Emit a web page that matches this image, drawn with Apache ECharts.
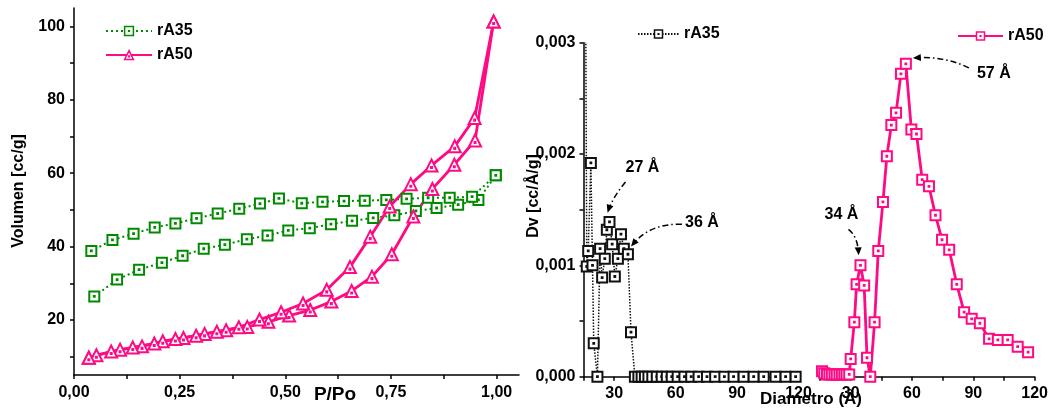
<!DOCTYPE html>
<html>
<head>
<meta charset="utf-8">
<script src="https://cdn.jsdelivr.net/npm/echarts@6/dist/echarts.min.js"></script>
<style>
html,body{margin:0;padding:0;background:#fff;}
#c{width:1051px;height:410px;}
</style>
</head>
<body>
<div id="c"></div>
<script>
// ---- Isotherm data (left panel) ----
const a35AdsX = [0.048,0.102,0.154,0.208,0.257,0.307,0.357,0.409,0.458,0.507,0.558,0.608,0.658,0.708,0.758,0.809,0.858,0.909,0.957,0.998];
const a35AdsY = [26.4,31.0,33.7,35.6,37.5,39.4,40.5,42.0,43.0,44.4,45.0,46.1,47.0,47.8,48.5,49.7,50.5,51.4,52.7,59.4];
const a35DesX = [0.998,0.942,0.889,0.838,0.787,0.739,0.688,0.639,0.588,0.539,0.485,0.440,0.391,0.340,0.290,0.240,0.191,0.141,0.091,0.041];
const a35DesY = [59.4,53.6,53.3,53.3,53.0,52.7,52.5,52.4,52.2,51.8,53.1,51.7,50.3,49.0,47.7,46.3,45.2,43.5,41.8,38.8];
const a50AdsX = [0.035,0.053,0.109,0.161,0.210,0.259,0.309,0.360,0.410,0.460,0.509,0.559,0.609,0.657,0.705,0.752,0.803,0.848,0.900,0.949,0.993];
const a50AdsY = [9.7,10.4,11.9,12.8,14.2,15.1,16.2,17.2,18.1,19.5,21.2,22.7,25.0,27.9,31.8,37.9,48.2,55.7,62.3,68.9,101.3];
const a50DesX = [0.993,0.948,0.901,0.846,0.797,0.747,0.701,0.653,0.598,0.542,0.490,0.439,0.390,0.338,0.289,0.240,0.190,0.139,0.088,0.035];
const a50DesY = [101.3,75.0,67.3,62.1,57.0,50.9,42.7,34.4,28.2,24.5,22.1,20.1,18.0,16.8,15.7,14.8,13.6,12.5,11.4,9.7];

// ---- Pore size distribution rA35 (middle panel) ----
const psd35X = [15.8,16.6,17.3,18.6,19.4,20.0,21.8,23.1,24.1,25.4,26.4,27.7,29.0,30.3,31.8,33.3,34.7,36.7,38.2,40.1,41.8,43.4,45.0,46.7,48.6,50.8,53.2,55.7,58.1,61.0,64.3,67.6,71.2,75.3,79.3,83.8,88.3,93.2,98.1,103.0,108.8,113.7,118.6];
const psd35Y = [0.0045,0.00099,0.00113,0.00192,0.00100,0.00030,0,0.00115,0.00089,0.00106,0.00132,0.00139,0.00119,0.00090,0.00106,0.00128,0.00115,0.00110,0.00040,0,0,0,0,0,0,0,0,0,0,0,0,0,0,0,0,0,0,0,0,0,0,0,0];

// ---- Pore size distribution rA50 (right panel) ----
const psd50X = [16.0,17.1,18.4,19.6,20.8,22.1,23.2,24.5,25.7,26.9,28.0,29.3,30.0,31.8,32.9,34.8,36.6,38.0,39.6,41.7,43.5,45.8,47.7,49.9,52.2,54.6,57.0,59.7,62.2,65.0,68.3,71.5,74.7,78.2,81.9,85.5,89.2,93.2,97.7,102.0,106.8,111.7,116.8];
const psd50Y = [0.00005,0.00003,0.00002,0.00002,0.00002,0.00002,0.00002,0.00002,0.00002,0.00002,0.00002,0.00002,0.00016,0.00049,0.00083,0.00100,0.00082,0.00017,0.0,0.00049,0.00113,0.00157,0.00198,0.00226,0.00237,0.00272,0.00281,0.00222,0.00218,0.00177,0.00171,0.00145,0.00123,0.00114,0.00083,0.00058,0.00052,0.00048,0.00034,0.00033,0.00033,0.00027,0.00022];

// ---- Tick values ----
const isoXLabels = [0,0.25,0.5,0.75,1.0];
const isoXTicks = [0,0.125,0.25,0.375,0.5,0.625,0.75,0.875,1.0];
const isoYLabels = [20,40,60,80,100];
const isoYTicks = [10,20,30,40,50,60,70,80,90,100];
const psdXLabels = [30,60,90,120];
const psdXTicks = [15,30,45,60,75,90,105,120];
const psdYLabels = [0,0.001,0.002,0.003];
const psdYTicks = [0,0.0005,0.001,0.0015,0.002,0.0025,0.003];

const GREEN = '#008a00', PINK = '#ff0a84', BLACK = '#111';
const FONT = 'Liberation Sans';
const zip = (xs, ys) => xs.map((x, i) => [x, ys[i]]);
const SQ = 'path://M0,0L10,0L10,10L0,10Z M4.6,4.6L5.4,4.6L5.4,5.4L4.6,5.4Z';
const TRI = 'path://M5,0L10,9L0,9Z M4.6,5.6L5.4,5.6L5.4,6.4L4.6,6.4Z';

const axLine = {show:true, lineStyle:{color:'#000', width:1.5}};
const axTick = (vals) => ({show:true, inside:false, length:4, lineStyle:{color:'#000', width:1.5}, customValues: vals});
const lbl = (vals, fmt, margin) => ({show:true, customValues: vals, formatter: fmt, color:'#000', fontFamily:FONT, fontWeight:'bold', fontSize:16, margin: margin});
const comma = (d) => (v) => Number(v).toFixed(d).replace('.', ',');

function lineSeries(name, data, color, sym, size, dash, width, xi) {
  return {
    type:'line', name:name, xAxisIndex:xi, yAxisIndex:xi, data:data,
    symbol:sym, symbolSize:size, showSymbol:true, clip:true,
    lineStyle:{color:color, width:width, type:dash},
    itemStyle:{color:'#fff', borderColor:color, borderWidth:2},
    emphasis:{disabled:true}, animation:false, z:3
  };
}
const legendText = {fontFamily:FONT, fontWeight:'bold', fontSize:16, color:'#000'};
const legendItem = {color:'#fff', borderWidth:1.5};

const chart = echarts.init(document.getElementById('c'));
const option = {
  animation:false,
  backgroundColor:'#fff',
  grid:[
    {left:74, right:532, top:8, bottom:35},
    {left:583.5, right:252.5, top:42.7, bottom:33.3},
    {left:820, right:13.7, top:42.7, bottom:33.3}
  ],
  xAxis:[
    {type:'value', gridIndex:0, min:0, max:1.053, axisLine:axLine, axisTick:axTick(isoXTicks), splitLine:{show:false}, axisLabel:lbl(isoXLabels, comma(2), 10)},
    {type:'value', gridIndex:1, min:15, max:120, axisLine:axLine, axisTick:axTick(psdXTicks), splitLine:{show:false}, axisLabel:lbl(psdXLabels, (v)=>String(v), 9)},
    {type:'value', gridIndex:2, min:15, max:120, axisLine:axLine, axisTick:axTick(psdXTicks), splitLine:{show:false}, axisLabel:lbl(psdXLabels, (v)=>String(v), 9)}
  ],
  yAxis:[
    {type:'value', gridIndex:0, min:5, max:105, axisLine:axLine, axisTick:axTick(isoYTicks), splitLine:{show:false}, axisLabel:lbl(isoYLabels, (v)=>String(v), 9)},
    {type:'value', gridIndex:1, min:0, max:0.003, axisLine:axLine, axisTick:axTick(psdYTicks), splitLine:{show:false}, axisLabel:lbl(psdYLabels, comma(3), 8)},
    {type:'value', gridIndex:2, min:0, max:0.003, show:false, splitLine:{show:false}}
  ],
  legend:[
    {data:['rA35','rA50'], left:100, top:18, orient:'vertical', itemWidth:46, itemHeight:11, itemGap:8,
     itemStyle:legendItem, textStyle:legendText, selectedMode:false},
    {data:['rA35 PSD'], left:632, top:21, itemWidth:41, itemHeight:10, itemStyle:legendItem,
     formatter:(n)=>n.split(' ')[0], textStyle:legendText, selectedMode:false},
    {data:['rA50 PSD'], left:952, top:23, itemWidth:45, itemHeight:10, itemStyle:legendItem,
     formatter:(n)=>n.split(' ')[0], textStyle:legendText, selectedMode:false}
  ],
  series:[
    lineSeries('rA35', zip(a35AdsX, a35AdsY), GREEN, SQ, 10, [2,3], 2, 0),
    lineSeries('rA35', zip(a35DesX, a35DesY), GREEN, SQ, 10, [2,3], 2, 0),
    lineSeries('rA50', zip(a50AdsX, a50AdsY), PINK, TRI, 12, 'solid', 2.8, 0),
    lineSeries('rA50', zip(a50DesX, a50DesY), PINK, TRI, 12, 'solid', 2.8, 0),
    lineSeries('rA35 PSD', zip(psd35X, psd35Y), BLACK, SQ, 10, [1.5,1.5], 1.5, 1),
    lineSeries('rA50 PSD', zip(psd50X, psd50Y), PINK, SQ, 10, 'solid', 2.8, 2)
  ]
};
chart.setOption(option);

// ---- Titles and annotations ----
function px(gi, x, y) { return chart.convertToPixel({gridIndex:gi}, [x, y]); }
const g = [];
const txtStyle = (s, size) => ({text:s, fontFamily:FONT, fontWeight:'bold', fontSize:size, fill:'#000', align:'center', verticalAlign:'middle'});
g.push({type:'text', x:19, y:191, rotation:Math.PI/2, style:txtStyle('Volumen [cc/g]', 16), z:10});
g.push({type:'text', x:335, y:395, style:txtStyle('P/Po', 19), z:10});
g.push({type:'text', x:534, y:196, rotation:Math.PI/2, style:txtStyle('Dv [cc/Å/g]', 16), z:10});
g.push({type:'text', x:811, y:399, style:txtStyle('Diametro (Å)', 17), z:10});

function arrow(gi, dx, dy, sOff, cOff, tOff, textOff, label) {
  const p = px(gi, dx, dy);
  const s = [p[0]+sOff[0], p[1]+sOff[1]];
  const c = [p[0]+cOff[0], p[1]+cOff[1]];
  const t = [p[0]+tOff[0], p[1]+tOff[1]];
  g.push({type:'bezierCurve', shape:{x1:s[0], y1:s[1], x2:t[0], y2:t[1], cpx1:c[0], cpy1:c[1]},
          style:{stroke:'#000', lineWidth:1.5, lineDash:[6,3,1.5,3], fill:null}, z:10});
  const ang = Math.atan2(t[1]-c[1], t[0]-c[0]);
  const L = 8, W = 3.5;
  const tip = [t[0]+Math.cos(ang)*3, t[1]+Math.sin(ang)*3];
  const bx = tip[0]-Math.cos(ang)*L, by = tip[1]-Math.sin(ang)*L;
  g.push({type:'polygon', shape:{points:[tip,[bx-Math.sin(ang)*W, by+Math.cos(ang)*W],[bx+Math.sin(ang)*W, by-Math.cos(ang)*W]]},
          style:{fill:'#000'}, z:10});
  g.push({type:'text', x:p[0]+textOff[0], y:p[1]+textOff[1], style:txtStyle(label, 16), z:10});
}
arrow(1, 27.7, 0.00139, [16,-40], [3,-24], [-1,-12], [33,-54], '27 Å');
arrow(1, 36.7, 0.00110, [54,-30], [22,-31], [5,-10], [74,-32], '36 Å');
arrow(2, 34.8, 0.00100, [-12,-36], [-3,-29], [-2,-13], [-19,-51], '34 Å');
arrow(2, 57.0, 0.00281, [63,4], [38,-8], [10,-6], [88,10], '57 Å');
chart.setOption({graphic:g});
</script>
</body>
</html>
